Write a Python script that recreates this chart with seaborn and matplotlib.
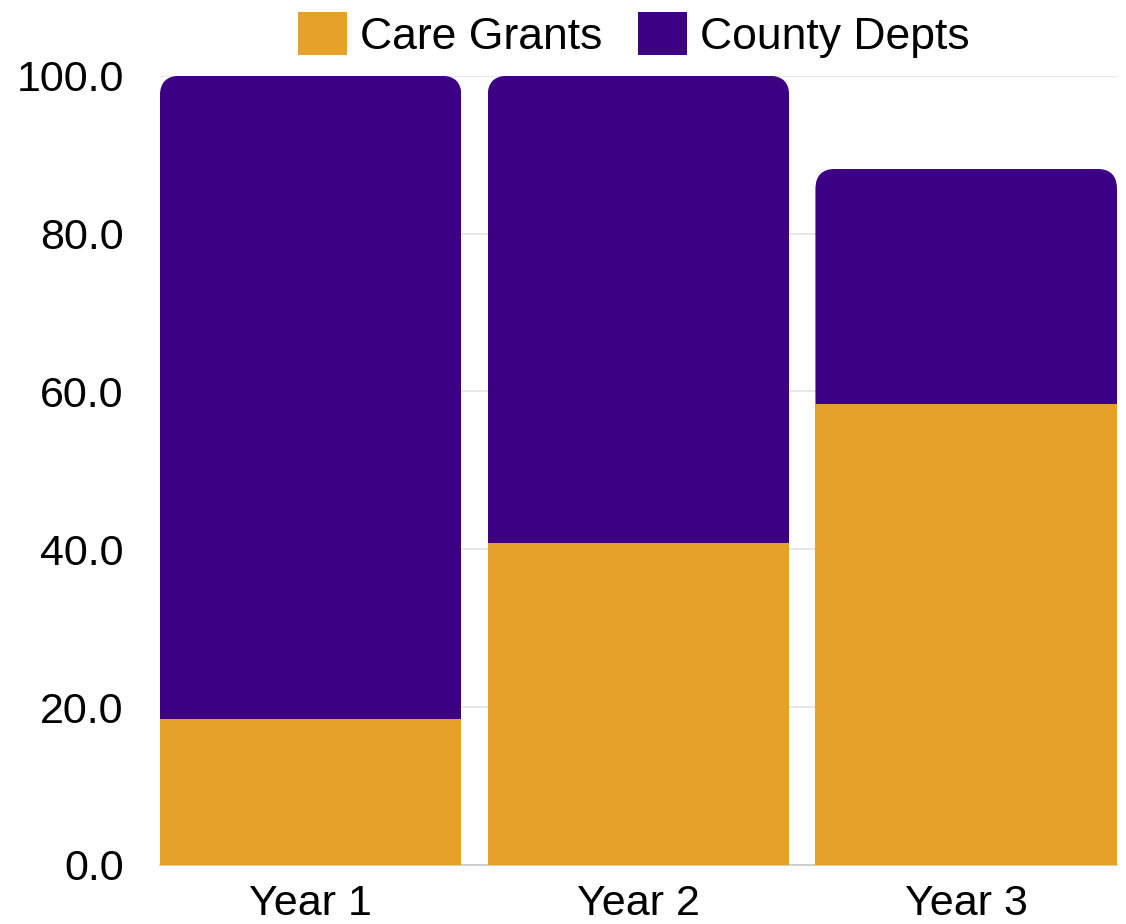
import pandas as pd
import matplotlib
matplotlib.use("Agg")
import matplotlib.pyplot as plt
from matplotlib.patches import FancyBboxPatch, Patch, Rectangle
import seaborn as sns

# Chart data
years = ["Year 1", "Year 2", "Year 3"]
care_grants = [18.5, 40.8, 58.4]
county_depts = [81.5, 59.2, 29.8]

ORANGE = "#E5A12A"
PURPLE = "#3B0084"

df = pd.DataFrame({"year": years, "care": care_grants, "county": county_depts})
df["total"] = df["care"] + df["county"]

sns.set_theme(style="white")
plt.rcParams["font.family"] = ["Liberation Sans", "DejaVu Sans"]

fig = plt.figure(figsize=(11.26, 9.24), dpi=100)
ax = fig.add_axes([0.142, 0.064, 0.85, 0.854])

# back bar = total (county on top), front bar = care grants
sns.barplot(data=df, x="year", y="total", color=PURPLE, width=0.92,
            saturation=1, linewidth=0, ax=ax, zorder=2)
n_back = len(ax.patches)
sns.barplot(data=df, x="year", y="care", color=ORANGE, width=0.92,
            saturation=1, linewidth=0, ax=ax, zorder=3)

ax.set_xlim(-0.46, 2.46)
ax.set_ylim(0, 100)

# round the top corners of the purple bars
fig.canvas.draw()
x0p, y0p = ax.transData.transform((0, 0))
x1p, y1p = ax.transData.transform((1, 1))
px_per_x = x1p - x0p
px_per_y = y1p - y0p
aspect = px_per_x / px_per_y
radius_px = 20
back = list(ax.patches[:n_back])
front = list(ax.patches[n_back:])
for p, f in zip(back, front):
    bx, by, bw, bh = p.get_x(), p.get_y(), p.get_width(), p.get_height()
    p.set_visible(False)
    rp = FancyBboxPatch((bx, by), bw, bh,
                        boxstyle=f"round,pad=0,rounding_size={radius_px / px_per_x}",
                        mutation_aspect=aspect, facecolor=PURPLE,
                        edgecolor="none", zorder=2)
    ax.add_patch(rp)
    top_of_front = f.get_height()
    clip = Rectangle((bx, top_of_front), bw, bh - top_of_front,
                     transform=ax.transData)
    rp.set_clip_path(clip)

ax.set_yticks([0, 20, 40, 60, 80, 100])
ax.set_yticklabels([f"{v:.1f}" for v in [0, 20, 40, 60, 80, 100]])
ax.yaxis.grid(True, color="#E3E3E3", linewidth=1.2, zorder=0)
ax.set_axisbelow(True)
ax.tick_params(axis="both", length=0, labelsize=31, colors="black")
ax.tick_params(axis="y", pad=26)
ax.tick_params(axis="x", pad=14)
ax.set_xlabel("")
ax.set_ylabel("")
for s in ["top", "right", "left"]:
    ax.spines[s].set_visible(False)
ax.spines["bottom"].set_color("#C8C8C8")
ax.spines["bottom"].set_linewidth(1.2)

handles = [Patch(facecolor=ORANGE, edgecolor="none", label="Care Grants"),
           Patch(facecolor=PURPLE, edgecolor="none", label="County Depts")]
fig.legend(handles=handles, loc="upper center", bbox_to_anchor=(0.563, 1.03),
           ncol=2, frameon=False, fontsize=32, handlelength=1.1,
           handleheight=1.1, handletextpad=0.3, columnspacing=0.8,
           labelcolor="black")

fig.savefig("out.png", dpi=100)
